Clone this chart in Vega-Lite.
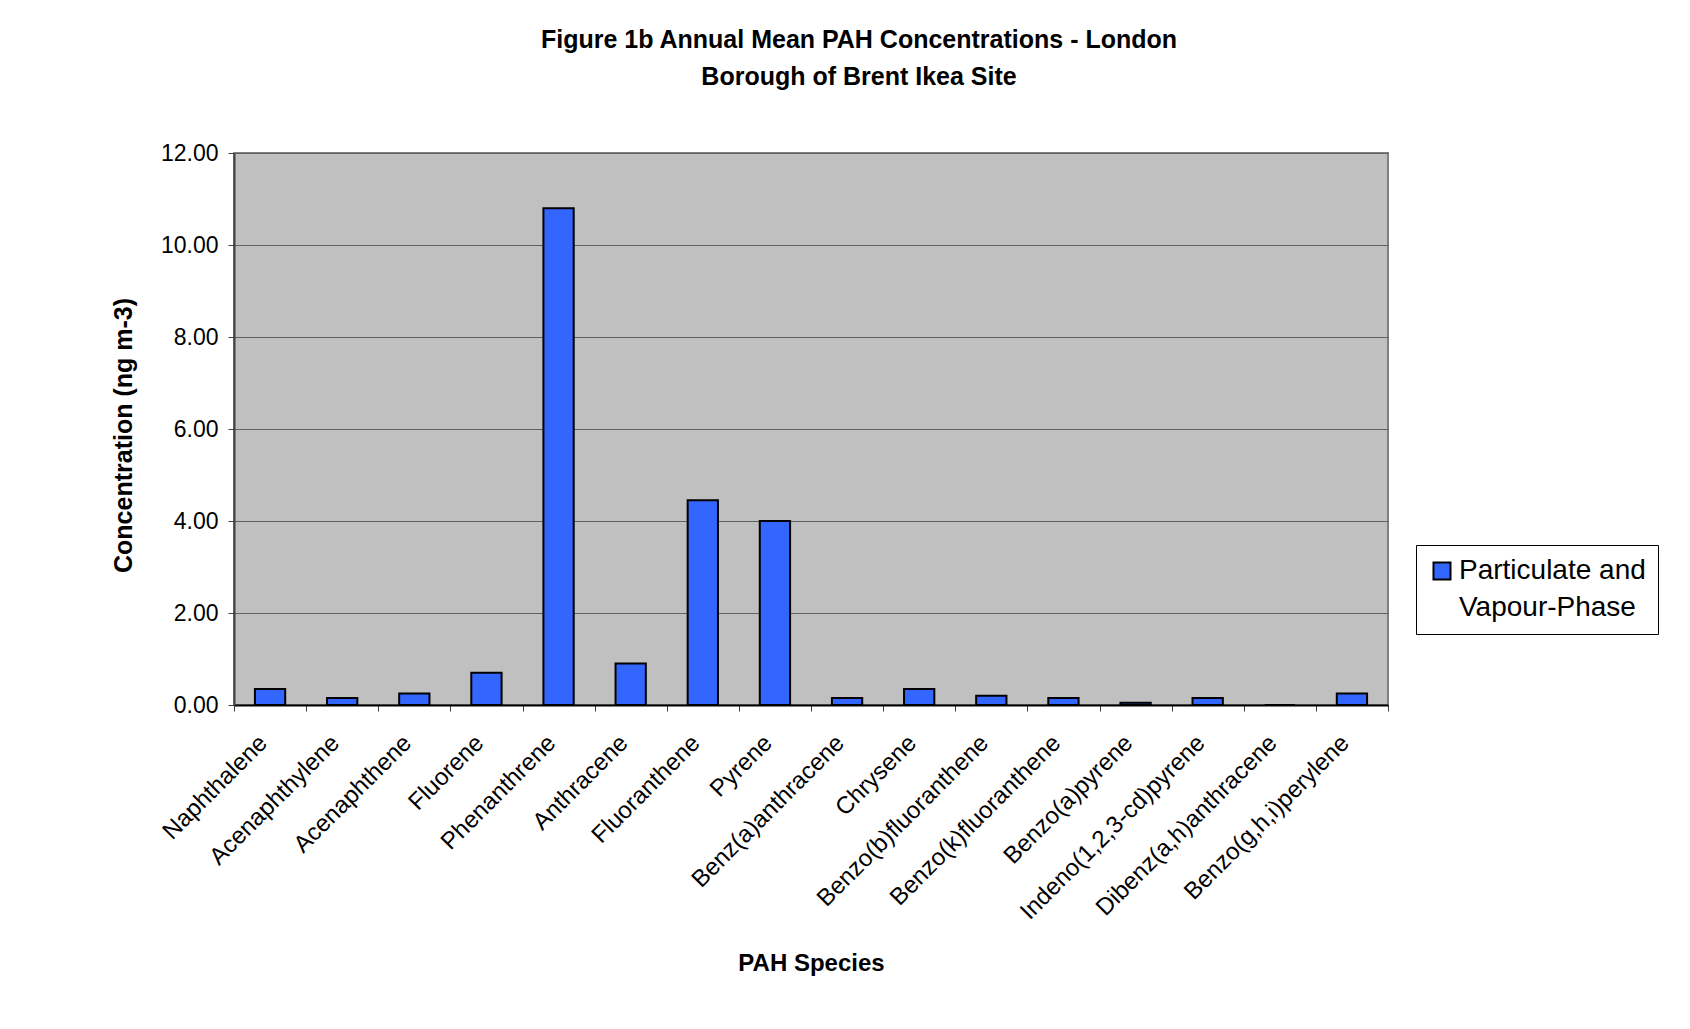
{
  "$schema": "https://vega.github.io/schema/vega-lite/v6.json",
  "autosize": {"type": "none"},
  "padding": {"left": 234, "top": 153, "right": 302, "bottom": 324},
  "width": 1154,
  "height": 552,
  "background": "white",
  "title": {
    "text": ["Figure 1b Annual Mean PAH Concentrations - London", "Borough of Brent Ikea Site"],
    "font": "Liberation Sans",
    "fontSize": 25,
    "fontWeight": "bold",
    "color": "black",
    "anchor": "middle",
    "frame": "group",
    "dx": 48,
    "offset": 52,
    "lineHeight": 37
  },
  "data": {
    "values": [
      {"species": "Naphthalene", "value": 0.35, "series": "Particulate and Vapour-Phase"},
      {"species": "Acenaphthylene", "value": 0.15, "series": "Particulate and Vapour-Phase"},
      {"species": "Acenaphthene", "value": 0.25, "series": "Particulate and Vapour-Phase"},
      {"species": "Fluorene", "value": 0.7, "series": "Particulate and Vapour-Phase"},
      {"species": "Phenanthrene", "value": 10.8, "series": "Particulate and Vapour-Phase"},
      {"species": "Anthracene", "value": 0.9, "series": "Particulate and Vapour-Phase"},
      {"species": "Fluoranthene", "value": 4.45, "series": "Particulate and Vapour-Phase"},
      {"species": "Pyrene", "value": 4.0, "series": "Particulate and Vapour-Phase"},
      {"species": "Benz(a)anthracene", "value": 0.15, "series": "Particulate and Vapour-Phase"},
      {"species": "Chrysene", "value": 0.35, "series": "Particulate and Vapour-Phase"},
      {"species": "Benzo(b)fluoranthene", "value": 0.2, "series": "Particulate and Vapour-Phase"},
      {"species": "Benzo(k)fluoranthene", "value": 0.15, "series": "Particulate and Vapour-Phase"},
      {"species": "Benzo(a)pyrene", "value": 0.05, "series": "Particulate and Vapour-Phase"},
      {"species": "Indeno(1,2,3-cd)pyrene", "value": 0.15, "series": "Particulate and Vapour-Phase"},
      {"species": "Dibenz(a,h)anthracene", "value": 0, "series": "Particulate and Vapour-Phase"},
      {"species": "Benzo(g,h,i)perylene", "value": 0.25, "series": "Particulate and Vapour-Phase"}
    ]
  },
  "mark": {"type": "bar", "width": {"band": 0.42}, "stroke": "black", "strokeWidth": 2},
  "encoding": {
    "x": {
      "field": "species",
      "type": "nominal",
      "sort": null,
      "scale": {"paddingInner": 0, "paddingOuter": 0},
      "axis": {
        "title": "PAH Species",
        "titleFont": "Liberation Sans",
        "titleFontSize": 24,
        "titleFontWeight": "bold",
        "titleColor": "black",
        "titlePadding": 46,
        "labelAngle": -45,
        "labelAlign": "right",
        "labelBaseline": "middle",
        "labelFont": "Liberation Sans",
        "labelFontSize": 24,
        "labelColor": "black",
        "labelPadding": 28,
        "labelOffset": -7,
        "labelLimit": 400,
        "tickBand": "extent",
        "tickSize": 6,
        "tickColor": "#404040",
        "domainColor": "black",
        "domainWidth": 2,
        "grid": false
      }
    },
    "y": {
      "field": "value",
      "type": "quantitative",
      "scale": {"domain": [0, 12]},
      "axis": {
        "title": "Concentration (ng m-3)",
        "titleFont": "Liberation Sans",
        "titleFontSize": 25,
        "titleFontWeight": "bold",
        "titleColor": "black",
        "titlePadding": 24,
        "titleY": 282,
        "values": [0, 2, 4, 6, 8, 10, 12],
        "format": ".2f",
        "labelFont": "Liberation Sans",
        "labelFontSize": 23,
        "labelColor": "black",
        "labelPadding": 10,
        "tickSize": 6,
        "tickColor": "#404040",
        "domainColor": "#404040",
        "domainWidth": 2,
        "grid": true,
        "gridColor": "#606060",
        "gridWidth": 1
      }
    },
    "color": {
      "field": "series",
      "type": "nominal",
      "scale": {"domain": ["Particulate and Vapour-Phase"], "range": ["#3366FF"]},
      "legend": {
        "title": null,
        "orient": "none",
        "legendX": 1182,
        "legendY": 392,
        "padding": 12,
        "strokeColor": "black",
        "fillColor": "white",
        "symbolType": "square",
        "symbolSize": 290,
        "symbolStrokeColor": "black",
        "symbolStrokeWidth": 2,
        "symbolOpacity": 1,
        "labelFont": "Liberation Sans",
        "labelFontSize": 28,
        "labelColor": "black",
        "labelLimit": 400,
        "labelOffset": 3,
        "labelExpr": "['Particulate and', 'Vapour-Phase']",
        "encode": {"labels": {"update": {"lineHeight": {"value": 37}}}}
      }
    }
  },
  "config": {
    "view": {"fill": "#C0C0C0", "stroke": "#808080", "strokeWidth": 2}
  }
}
